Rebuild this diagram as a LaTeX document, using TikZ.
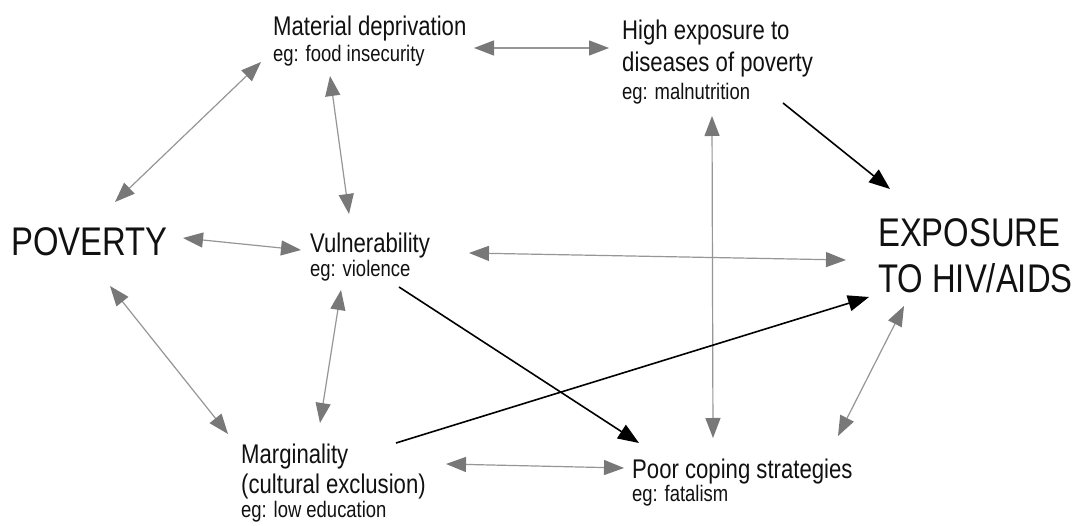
\documentclass[tikz,border=0pt]{standalone}
\usepackage{fontspec}
\setmainfont{Liberation Sans}[FakeStretch=0.82]
\usetikzlibrary{arrows.meta}
\definecolor{arrgray}{HTML}{787878}
\definecolor{linegray}{HTML}{969696}
\definecolor{txt}{HTML}{111111}
\tikzset{
  lbl/.style={anchor=base west, inner sep=0pt, text=txt},
  big/.style={lbl, font=\fontsize{40}{46}\selectfont},
  med/.style={lbl, font=\fontsize{27}{32}\selectfont},
  sml/.style={lbl, font=\fontsize{22.5}{26}\selectfont},
  link/.style={draw=linegray, line width=1.2pt, {Triangle[length=20pt,width=15pt,color=arrgray,fill=arrgray]}-{Triangle[length=20pt,width=15pt,color=arrgray,fill=arrgray]}},
  cause/.style={draw=black, line width=1.6pt, -{Triangle[length=21pt,width=16pt]}}
}
\begin{document}
\begin{tikzpicture}[x=1pt,y=-1pt]
\useasboundingbox[fill=white] (0,0) rectangle (1080,526);
% texts
\node[big] (pov) at (11,256) {POVERTY};
\node[med] (mat) at (273,36) {Material deprivation};
\node[sml] (mateg) at (273,62) {eg: food insecurity};
\node[med] (hig1) at (622,40) {High exposure to};
\node[med] (hig2) at (622,72) {diseases of poverty};
\node[sml] (higeg) at (622,100) {eg: malnutrition};
\node[med] (vul) at (310,253) {Vulnerability};
\node[sml] (vuleg) at (310,277) {eg: violence};
\node[big] (exp1) at (878,247) {EXPOSURE};
\node[big] (exp2) at (878,293) {TO HIV/AIDS};
\node[med] (mar1) at (241,464) {Marginality};
\node[med] (mar2) at (241,494) {(cultural exclusion)};
\node[sml] (mareg) at (241,518) {eg: low education};
\node[med] (poo) at (632,479) {Poor coping strategies};
\node[sml] (pooeg) at (632,502) {eg: fatalism};
% end points
\coordinate (a1) at (115,202); \coordinate (a2) at (261,62);
\coordinate (b1) at (474,48);  \coordinate (b2) at (609,48);
\coordinate (c1) at (330,76);  \coordinate (c2) at (349,214);
\coordinate (d1) at (183,238); \coordinate (d2) at (301,250);
\coordinate (e1) at (110,286); \coordinate (e2) at (228,434);
\coordinate (f1) at (341,290); \coordinate (f2) at (320,423);
\coordinate (g1) at (469,253); \coordinate (g2) at (846,260);
\coordinate (h1) at (712,116); \coordinate (h2) at (713,438);
\coordinate (i1) at (446,464); \coordinate (i2) at (624,468);
\coordinate (j1) at (904,306); \coordinate (j2) at (838,436);
\coordinate (k1) at (783,103); \coordinate (k2) at (890,189);
\coordinate (l1) at (399,287); \coordinate (l2) at (639,443);
\coordinate (m1) at (396,443); \coordinate (m2) at (869,297);
% connectors
\draw[link] (a1) -- (a2);
\draw[link] (b1) -- (b2);
\draw[link] (c1) -- (c2);
\draw[link] (d1) -- (d2);
\draw[link] (e1) -- (e2);
\draw[link] (f1) -- (f2);
\draw[link] (g1) -- (g2);
\draw[link] (h1) -- (h2);
\draw[link] (i1) -- (i2);
\draw[link] (j1) -- (j2);
\draw[cause] (k1) -- (k2);
\draw[cause] (l1) -- (l2);
\draw[cause] (m1) -- (m2);
\end{tikzpicture}
\end{document}
